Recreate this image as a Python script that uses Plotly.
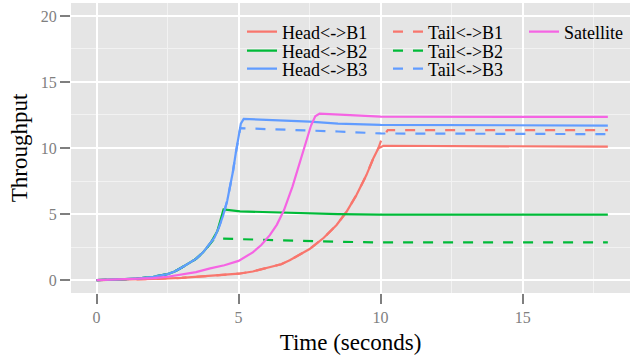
import plotly.graph_objects as go

# ---- data ----
head_b1_t = [0, 1, 2, 3, 4, 5, 5.5, 6, 6.5, 6.8, 7.15, 7.5, 8, 8.45, 8.8, 9.15, 9.5, 9.75, 9.92, 10.1, 18]
head_b1_v = [0, 0.03, 0.08, 0.17, 0.3, 0.48, 0.65, 0.9, 1.2, 1.5, 1.9, 2.35, 3.2, 4.17, 5.17, 6.44, 7.95, 9.25, 9.98, 10.17, 10.1]

tail_b1_t = [0, 1, 2, 3, 4, 5, 5.5, 6, 6.5, 6.8, 7.15, 7.5, 8, 8.45, 8.8, 9.15, 9.5, 9.75, 9.92, 10.05, 10.25, 18]
tail_b1_v = [0, 0.03, 0.08, 0.17, 0.3, 0.48, 0.65, 0.9, 1.2, 1.5, 1.9, 2.35, 3.2, 4.17, 5.17, 6.44, 7.95, 9.25, 9.98, 10.75, 11.35, 11.35]

head_b2_t = [0, 0.5, 1, 1.5, 2, 2.5, 2.75, 3, 3.25, 3.5, 3.75, 4, 4.25, 4.47, 5.05, 6.5, 8.5, 10, 18]
head_b2_v = [0, 0.02, 0.07, 0.13, 0.25, 0.45, 0.65, 0.95, 1.25, 1.6, 2.1, 2.75, 3.7, 5.35, 5.2, 5.1, 5.0, 4.95, 4.95]

tail_b2_t = [0, 0.5, 1, 1.5, 2, 2.5, 2.75, 3, 3.25, 3.5, 3.75, 4, 4.15, 8.5, 10, 18]
tail_b2_v = [0, 0.02, 0.07, 0.13, 0.25, 0.45, 0.65, 0.95, 1.25, 1.6, 2.1, 2.75, 3.15, 2.9, 2.85, 2.85]

head_b3_t = [0, 0.5, 1, 1.5, 2, 2.5, 2.75, 3, 3.25, 3.5, 3.75, 4, 4.15, 4.3, 4.45, 4.6, 4.7, 4.8, 4.9, 5.0, 5.08, 5.18, 7.5, 8.5, 10, 18]
head_b3_v = [0, 0.02, 0.07, 0.13, 0.25, 0.45, 0.65, 0.95, 1.25, 1.6, 2.1, 2.75, 3.2, 3.95, 4.85, 6.0, 7.0, 8.2, 9.6, 10.9, 11.85, 12.2, 12.0, 11.85, 11.75, 11.7]

tail_b3_t = [0, 0.5, 1, 1.5, 2, 2.5, 2.75, 3, 3.25, 3.5, 3.75, 4, 4.15, 4.3, 4.45, 4.6, 4.7, 4.8, 4.9, 5.0, 5.06, 8.5, 10, 18]
tail_b3_v = [0, 0.02, 0.07, 0.13, 0.25, 0.45, 0.65, 0.95, 1.25, 1.6, 2.1, 2.75, 3.2, 3.95, 4.85, 6.0, 7.0, 8.2, 9.6, 10.9, 11.5, 11.25, 11.1, 11.05]

sat_t = [0, 1, 2, 2.5, 3, 3.5, 4, 4.5, 5, 5.5, 5.8, 6.1, 6.35, 6.6, 6.9, 7.15, 7.4, 7.55, 7.7, 7.85, 10, 18]
sat_v = [0, 0.05, 0.15, 0.25, 0.4, 0.6, 0.88, 1.12, 1.45, 2.1, 2.65, 3.4, 4.2, 5.3, 7.1, 8.9, 10.8, 11.7, 12.4, 12.6, 12.37, 12.35]

series_names = ["Head<->B1", "Head<->B2", "Head<->B3", "Tail<->B1", "Tail<->B2", "Tail<->B3", "Satellite"]
x_ticks = [0, 5, 10, 15]
y_ticks = [0, 5, 10, 15, 20]

# ---- styling ----
RED, GREEN, BLUE, PINK = "#F8766D", "#00BA38", "#619CFF", "#F564E3"
FONT = "'Liberation Serif', 'Times New Roman', serif"
DASH = "10px,10px"

def esc(s):
    return s.replace("<", "&lt;").replace(">", "&gt;")

fig = go.Figure()

# draw order: dashed first so solid lines sit on top where they overlap
specs = [
    (tail_b1_t, tail_b1_v, series_names[3], RED, DASH, "legend4"),
    (tail_b2_t, tail_b2_v, series_names[4], GREEN, DASH, "legend5"),
    (tail_b3_t, tail_b3_v, series_names[5], BLUE, DASH, "legend6"),
    (head_b1_t, head_b1_v, series_names[0], RED, "solid", "legend"),
    (head_b2_t, head_b2_v, series_names[1], GREEN, "solid", "legend2"),
    (head_b3_t, head_b3_v, series_names[2], BLUE, "solid", "legend3"),
    (sat_t, sat_v, series_names[6], PINK, "solid", "legend7"),
]
for t, v, name, col, dash, leg in specs:
    fig.add_trace(go.Scatter(x=t, y=v, mode="lines", name=esc(name),
                             line=dict(color=col, width=2.2, dash=dash),
                             legend=leg, hoverinfo="skip"))

# legend positions: three columns, three rows (ggplot layout)
L, R, T, B = 71, 0, 3, 65
W, H = 630 - L - R, 358 - T - B
col_px = [242, 388, 524]
row_px = [32, 51, 69]
def px2paper(xp, yp):
    return (xp - L) / W, (358 - B - yp) / H

leg_pos = {
    "legend": (0, 0), "legend2": (0, 1), "legend3": (0, 2),
    "legend4": (1, 0), "legend5": (1, 1), "legend6": (1, 2),
    "legend7": (2, 0),
}
legend_layout = {}
for key, (c, r) in leg_pos.items():
    lx, ly = px2paper(col_px[c], row_px[r])
    legend_layout[key] = dict(x=lx, y=ly, xanchor="left", yanchor="middle",
                              bgcolor="rgba(0,0,0,0)", borderwidth=0,
                              font=dict(family=FONT, size=18, color="black"))

axis_common = dict(
    ticks="outside", ticklen=10, tickwidth=2, tickcolor="#7F7F7F",
    tickfont=dict(family=FONT, size=16, color="#7F7F7F"),
    showgrid=True, gridcolor="white", gridwidth=1.6,
    zeroline=False, showline=False, automargin=False,
    minor=dict(dtick=2.5, tick0=0, showgrid=True, gridcolor="#F2F2F2", gridwidth=0.8, ticks=""),
)

fig.update_layout(
    width=630, height=358,
    margin=dict(l=L, r=R, t=T, b=B, pad=0, autoexpand=False),
    paper_bgcolor="white", plot_bgcolor="#E5E5E5",
    font=dict(family=FONT),
    showlegend=True,
    xaxis=dict(range=[-0.9, 18.78], tickvals=x_ticks, ticktext=[str(v) for v in x_ticks],
               title=dict(text="Time (seconds)", font=dict(family=FONT, size=23, color="black"), standoff=8),
               **axis_common),
    yaxis=dict(range=[-0.98, 20.98], tickvals=y_ticks, ticktext=[str(v) for v in y_ticks],
               title=dict(text="Throughput", font=dict(family=FONT, size=23, color="black"), standoff=6),
               **axis_common),
    **legend_layout,
)

fig.write_html("out.html", config={"displayModeBar": False},
               post_script="document.body.style.margin='0';document.body.style.padding='0';")
